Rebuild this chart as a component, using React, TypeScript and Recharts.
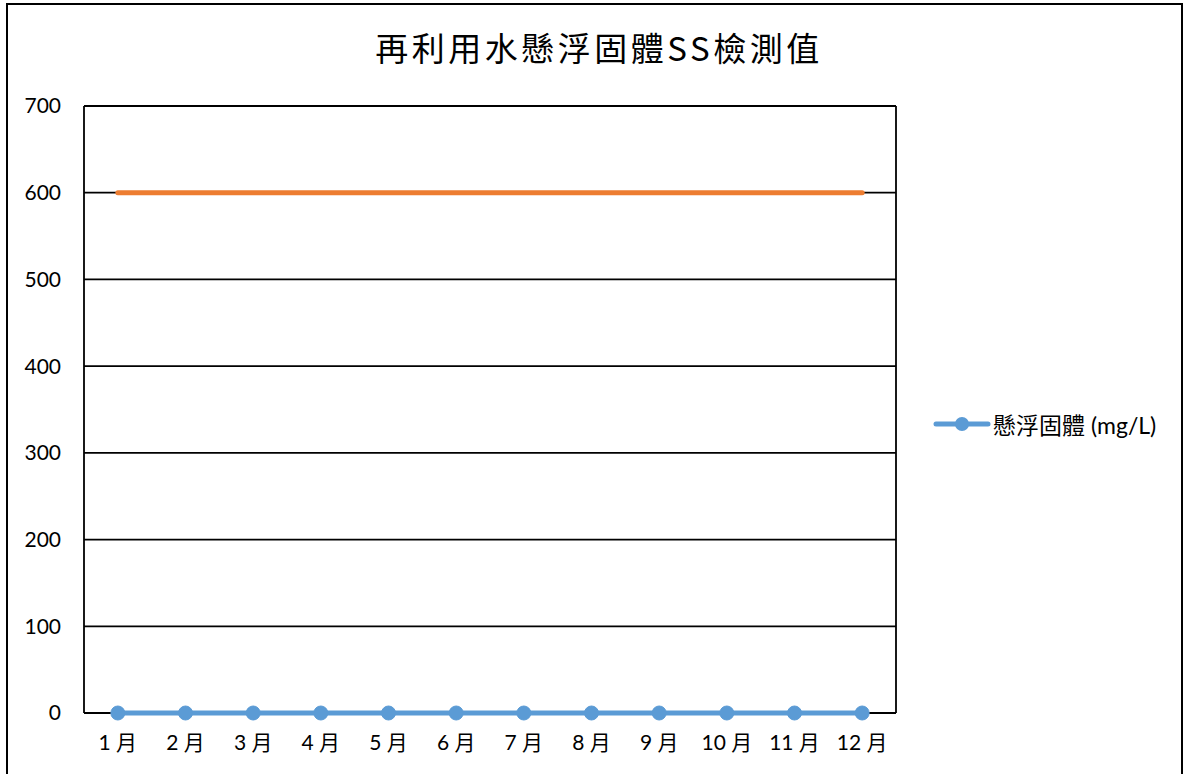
import { LineChart, Line, XAxis, YAxis, CartesianGrid, Legend } from 'recharts';

const months = ['1 月', '2 月', '3 月', '4 月', '5 月', '6 月', '7 月', '8 月', '9 月', '10 月', '11 月', '12 月'];
const ssValues = [0, 0, 0, 0, 0, 0, 0, 0, 0, 0, 0, 0];
const limitValues = [600, 600, 600, 600, 600, 600, 600, 600, 600, 600, 600, 600];
const yTicks = [0, 100, 200, 300, 400, 500, 600, 700];

const data = months.map((month, i) => ({
  month,
  ss: ssValues[i],
  limit: limitValues[i],
}));

const labelFont = "Lato, 'Noto Sans CJK TC', sans-serif";

function LegendContent({ payload }: any) {
  const items = (payload || []).filter((p: any) => p.type !== 'none');
  return (
    <div style={{ display: 'flex', flexDirection: 'column' }}>
      {items.map((item: any) => (
        <div key={item.value} style={{ display: 'flex', alignItems: 'center' }}>
          <svg width={58} height={16} style={{ display: 'block' }}>
            <line x1={3} y1={8} x2={55} y2={8} stroke={item.color} strokeWidth={5} strokeLinecap="round" />
            <circle cx={29} cy={8} r={7} fill={item.color} />
          </svg>
          <span style={{ fontFamily: labelFont, fontSize: 23, color: '#000', marginLeft: 2, whiteSpace: 'nowrap' }}>
            {item.value}
          </span>
        </div>
      ))}
    </div>
  );
}

export default function App() {
  return (
    <div
      style={{
        position: 'absolute',
        left: 0,
        top: 0,
        width: 1187,
        height: 774,
        background: '#fff',
        overflow: 'hidden',
      }}
    >
      <div
        style={{
          position: 'absolute',
          left: 6,
          top: 3,
          width: 1177,
          height: 800,
          border: '2px solid #000',
          boxSizing: 'border-box',
        }}
      />
      <div
        style={{
          position: 'absolute',
          left: 0,
          top: 27,
          width: 1198,
          textAlign: 'center',
          fontFamily: "'Noto Sans CJK TC', serif",
          fontSize: 33,
          letterSpacing: 3.5,
          lineHeight: '40px',
          color: '#000',
        }}
      >
        再利用水懸浮固體SS檢測值
      </div>
      <div style={{ position: 'absolute', left: 0, top: 0 }}>
        <LineChart width={1187} height={774} data={data} margin={{ top: 106, right: 291, bottom: 0, left: 0 }}>
          <CartesianGrid
            yAxisId="l"
            stroke="#000"
            strokeWidth={1.8}
            verticalCoordinatesGenerator={({ offset }: any) => [offset.left, offset.left + offset.width]}
          />
          <XAxis
            dataKey="month"
            scale="band"
            axisLine={false}
            tickLine={false}
            tickSize={0}
            tickMargin={22}
            height={61}
            interval={0}
            tick={{ fill: '#000', fontSize: 21, fontFamily: labelFont }}
          />
          <YAxis
            yAxisId="l"
            domain={[0, 700]}
            ticks={yTicks}
            width={84}
            axisLine={false}
            tickLine={false}
            tickSize={0}
            tickMargin={23}
            tick={{ fill: '#000', fontSize: 21, fontFamily: labelFont }}
          />
          <Legend
            layout="horizontal"
            align="center"
            verticalAlign="middle"
            wrapperStyle={{ left: 933, right: 'auto', top: 407, width: 250 }}
            content={<LegendContent />}
          />
          <Line
            yAxisId="l"
            dataKey="limit"
            name="放流標準"
            stroke="#ED7D31"
            strokeWidth={5}
            strokeLinecap="round"
            dot={false}
            activeDot={false}
            legendType="none"
            isAnimationActive={false}
          />
          <Line
            yAxisId="l"
            dataKey="ss"
            name="懸浮固體 (mg/L)"
            stroke="#5B9BD5"
            strokeWidth={5}
            dot={{ r: 7, fill: '#5B9BD5', stroke: '#5B9BD5', strokeWidth: 1 }}
            activeDot={false}
            isAnimationActive={false}
          />
        </LineChart>
      </div>
    </div>
  );
}
